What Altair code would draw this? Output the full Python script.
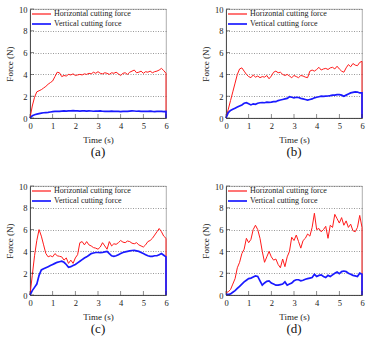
import altair as alt
import pandas as pd

T = [0.0, 0.1, 0.2, 0.3, 0.4, 0.5, 0.6, 0.7, 0.8, 0.9,
     1.0, 1.1, 1.2, 1.3, 1.4, 1.5, 1.6, 1.7, 1.8, 1.9,
     2.0, 2.1, 2.2, 2.3, 2.4, 2.5, 2.6, 2.7, 2.8, 2.9,
     3.0, 3.1, 3.2, 3.3, 3.4, 3.5, 3.6, 3.7, 3.8, 3.9,
     4.0, 4.1, 4.2, 4.3, 4.4, 4.5, 4.6, 4.7, 4.8, 4.9,
     5.0, 5.1, 5.2, 5.3, 5.4, 5.5, 5.6, 5.7, 5.8, 5.9, 6.0]

A_H = [0.0, 1.1, 1.9, 2.4, 2.5, 2.6, 2.75, 2.9, 3.1, 3.25,
       3.4, 3.8, 4.2, 4.15, 3.8, 3.9, 3.85, 4.0, 3.95, 4.05,
       3.9, 3.95, 4.0, 3.95, 4.05, 4.0, 4.1, 4.05, 4.2, 4.1,
       4.25, 4.1, 4.05, 4.15, 4.1, 4.0, 4.15, 4.1, 4.2, 4.05,
       3.9, 4.1, 4.15, 4.0, 4.2, 4.3, 4.4, 4.15, 4.2, 4.3,
       4.1, 4.25, 4.2, 4.3, 4.15, 4.25, 4.3, 4.4, 4.55, 4.35, 4.1]
A_V = [0.0, 0.2, 0.3, 0.35, 0.4, 0.45, 0.48, 0.5, 0.52, 0.55,
       0.58, 0.6, 0.62, 0.6, 0.63, 0.65, 0.64, 0.66, 0.65, 0.67,
       0.65, 0.66, 0.64, 0.66, 0.65, 0.63, 0.65, 0.64, 0.62, 0.64,
       0.63, 0.65, 0.62, 0.6, 0.62, 0.61, 0.63, 0.6, 0.62, 0.6,
       0.58, 0.6, 0.62, 0.6, 0.63, 0.66, 0.64, 0.62, 0.63, 0.6,
       0.62, 0.6, 0.61, 0.63, 0.6, 0.58, 0.6, 0.62, 0.6, 0.58, 0.6]

B_H = [0.0, 0.8, 1.6, 2.4, 3.2, 4.0, 4.5, 4.6, 4.3, 4.0,
       3.8, 3.7, 3.95, 3.75, 3.85, 3.7, 3.8, 3.75, 3.9, 3.6,
       3.85, 4.2, 4.3, 4.15, 4.2, 4.0, 3.9, 4.0, 3.85, 3.7,
       3.9, 3.8, 3.7, 3.9, 3.85, 3.75, 3.7, 4.3, 4.4, 4.3,
       4.45, 4.65, 4.4, 4.5, 4.55, 4.45, 4.6, 4.65, 4.5, 4.75,
       4.5, 4.3, 4.2, 4.6, 4.9, 4.7, 5.0, 4.85, 4.8, 5.1, 5.2]
B_V = [0.0, 0.5, 0.7, 0.8, 0.9, 1.0, 1.1, 1.2, 1.35, 1.4,
       1.3, 1.2, 1.3, 1.25, 1.35, 1.4, 1.42, 1.4, 1.46, 1.44,
       1.45, 1.5, 1.5, 1.6, 1.65, 1.7, 1.75, 1.8, 1.95, 1.9,
       1.85, 1.9, 1.88, 1.8, 1.75, 1.7, 1.65, 1.7, 1.75, 1.85,
       1.9, 1.95, 2.0, 1.98, 2.0, 2.02, 2.05, 2.1, 2.1, 2.15,
       2.15, 2.1, 2.0, 2.1, 2.2, 2.3, 2.35, 2.4, 2.38, 2.3, 2.3]

C_H = [0.0, 1.8, 3.6, 5.0, 6.0, 5.4, 4.6, 3.8, 3.5, 3.6,
       3.5, 3.8, 3.6, 3.55, 3.5, 3.2, 3.4, 2.9, 3.2, 2.9,
       3.4, 3.7, 4.8, 4.9, 4.6, 4.9, 4.6, 4.5, 4.35, 4.3,
       4.2, 4.4, 4.8, 4.5, 4.2, 4.9, 4.5, 4.7, 4.65, 4.8,
       5.0, 4.85, 4.8, 4.95, 4.9, 4.75, 4.7, 4.8, 4.6, 4.5,
       4.4, 4.6, 4.9, 5.0, 5.2, 5.5, 5.8, 6.1, 5.8, 5.4, 5.2]
C_V = [0.0, 0.4, 0.7, 1.0, 1.8, 2.3, 2.4, 2.5, 2.6, 2.7,
       2.8, 2.9, 3.0, 3.05, 3.1, 3.0, 2.8, 2.55, 2.6, 2.7,
       2.8, 2.95, 3.1, 3.25, 3.4, 3.5, 3.65, 3.8, 3.85, 3.9,
       3.9, 3.88, 3.9, 3.95, 4.0, 3.8, 3.6, 3.55, 3.6, 3.7,
       3.8, 3.9, 3.95, 4.0, 4.05, 4.08, 4.1, 4.05, 4.0, 3.9,
       3.8, 3.7, 3.6, 3.55, 3.55, 3.6, 3.6, 3.7, 3.8, 3.65, 3.5]

D_H = [0.2, 0.3, 0.5, 1.0, 1.5, 2.5, 3.0, 3.8, 4.2, 5.2,
       4.8, 5.1, 6.0, 6.4, 6.0, 5.2, 4.0, 3.0, 3.5, 4.0,
       3.5, 3.2, 3.3, 2.8, 2.5, 3.3, 2.6, 3.5, 4.0, 5.3,
       5.0, 5.5, 4.9, 4.3, 5.0, 5.2, 5.6, 5.4, 6.2, 7.5,
       6.0, 6.1, 5.8, 6.0, 6.3, 5.2, 6.4, 6.2, 7.4, 7.0,
       6.6, 7.1, 6.4, 6.8, 6.2, 6.5, 5.9, 5.8, 6.2, 7.3, 6.2]
D_V = [0.05, 0.05, 0.1, 0.25, 0.4, 0.6, 0.8, 1.0, 1.2, 1.35,
       1.5, 1.55, 1.65, 1.75, 1.7, 1.3, 0.9, 1.1, 1.25, 1.3,
       1.1, 1.0, 0.9, 0.9, 0.95, 1.0, 1.2, 0.9, 1.0, 1.1,
       1.3, 1.4, 1.4, 1.3, 1.35, 1.45, 1.5, 1.55, 1.6, 1.9,
       1.7, 1.8, 1.85, 1.7, 1.6, 1.8, 1.7, 1.85, 2.0, 2.1,
       1.95, 2.15, 2.2, 2.15, 2.0, 1.9, 1.8, 1.75, 1.7, 2.0, 1.9]

END_T = 6.0
END_F = 0.0

SERIES = ["Horizontal cutting force", "Vertical cutting force"]
PANEL_LABELS = ["(a)", "(b)", "(c)", "(d)"]
X_TICKS = [0, 1, 2, 3, 4, 5, 6]
Y_TICKS = [0, 2, 4, 6, 8, 10]

RED = "#ff1a1a"
BLUE = "#1a1aff"
SERIF = "Liberation Serif, Times New Roman, serif"
W, H = 136, 109

X_ENC = alt.X("t:Q", scale=alt.Scale(domain=[0, 6], nice=False),
              axis=alt.Axis(values=X_TICKS, title="Time (s)", tickSize=0,
                            labelPadding=3, titlePadding=6, grid=False,
                            labelOverlap=False, labelFlush=False))
Y_ENC = alt.Y("f:Q", scale=alt.Scale(domain=[0, 10], nice=False),
              axis=alt.Axis(values=Y_TICKS, title="Force (N)", tickSize=0,
                            labelPadding=3, titlePadding=3, grid=True,
                            labelOverlap=False, labelFlush=False,
                            minExtent=13, maxExtent=13))


def series_df(vals):
    t = T + [END_T]
    f = vals + [END_F]
    return pd.DataFrame({"t": t, "f": f, "i": list(range(len(t)))})


def panel(hv, vv, label):
    red = alt.Chart(series_df(hv)).mark_line(color=RED, strokeWidth=1).encode(
        x=X_ENC, y=Y_ENC, order="i:Q")
    blue = alt.Chart(series_df(vv)).mark_line(color=BLUE, strokeWidth=1.7).encode(
        x=X_ENC, y=Y_ENC, order="i:Q")
    xt = alt.Chart(pd.DataFrame({"t": X_TICKS})).mark_tick(
        color="#333", size=4, thickness=0.8, orient="vertical").encode(
        x=X_ENC, y=alt.value(H - 2))
    yt = alt.Chart(pd.DataFrame({"f": Y_TICKS})).mark_tick(
        color="#333", size=4, thickness=0.8, orient="horizontal").encode(
        y=Y_ENC, x=alt.value(2))
    one = pd.DataFrame({"k": [0]})
    leg = []
    for j, (name, col, sw) in enumerate(zip(SERIES, [RED, BLUE], [1.2, 1.7])):
        yy = 5 + 10 * j
        leg.append(alt.Chart(one).mark_rule(color=col, strokeWidth=sw).encode(
            x=alt.value(2), x2=alt.value(21), y=alt.value(yy)))
        leg.append(alt.Chart(one).mark_text(
            align="left", baseline="middle", font=SERIF, fontSize=8,
            color="#222").encode(x=alt.value(24), y=alt.value(yy),
                                 text=alt.value(name)))
    return alt.layer(red, blue, xt, yt, *leg).properties(
        width=W, height=H,
        title=alt.TitleParams(label, orient="bottom", font=SERIF, fontSize=13,
                              fontWeight="normal", color="#111", offset=1))


pa = panel(A_H, A_V, PANEL_LABELS[0])
pb = panel(B_H, B_V, PANEL_LABELS[1])
pc = panel(C_H, C_V, PANEL_LABELS[2])
pd_ = panel(D_H, D_V, PANEL_LABELS[3])

chart = alt.vconcat(
    alt.hconcat(pa, pb, spacing=30),
    alt.hconcat(pc, pd_, spacing=30),
    spacing=22,
).properties(
    padding={"left": 4, "top": 4, "right": 0, "bottom": 0},
    background="white",
).configure_view(
    stroke="#9a9a9a", strokeWidth=0.8
).configure_axis(
    labelFont=SERIF, labelFontSize=8.5, labelColor="#222",
    titleFont=SERIF, titleFontSize=9, titleFontWeight="normal", titleColor="#222",
    domainColor="#333", domainWidth=0.8,
    gridColor="#555", gridDash=[1, 1.5], gridWidth=0.6,
)

chart.save("out.html", embed_options={"renderer": "svg", "actions": False})
